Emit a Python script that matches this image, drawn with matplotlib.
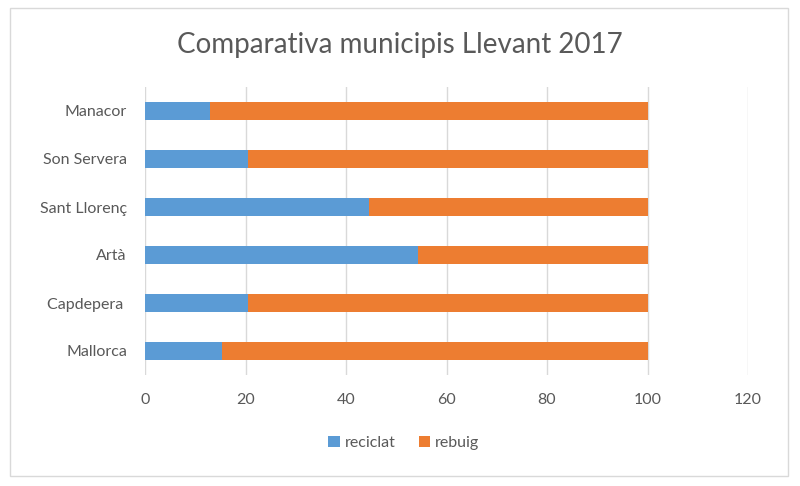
import matplotlib.pyplot as plt
from matplotlib.patches import Rectangle

municipis = ["Mallorca", "Capdepera ", "Artà", "Sant Llorenç", "Son Servera", "Manacor"]
reciclat = [15.3, 20.4, 54.4, 44.6, 20.5, 13.0]
rebuig = [84.7, 79.6, 45.6, 55.4, 79.5, 87.0]
xticks = [0, 20, 40, 60, 80, 100, 120]

blue = "#5b9bd5"
orange = "#ed7d31"
txt = "#595959"

plt.rcParams['font.family'] = ['Lato', 'DejaVu Sans']

fig = plt.figure(figsize=(8, 4.86), dpi=100)
ax = fig.add_axes([145/800, 1-375/486, (748-145)/800, (375-87)/486])

ax.barh(municipis, reciclat, height=0.38, color=blue, label="reciclat", zorder=3)
ax.barh(municipis, rebuig, left=reciclat, height=0.38, color=orange, label="rebuig", zorder=3)

ax.set_xlim(0, 120)
ax.set_ylim(-0.5, len(municipis) - 0.5)
ax.set_xticks(xticks)
ax.grid(axis="x", color="#d9d9d9", linewidth=1, zorder=0)
for s in ax.spines.values():
    s.set_visible(False)
ax.tick_params(axis="both", length=0, labelsize=11.5, colors=txt)
ax.tick_params(axis="y", pad=13)
ax.tick_params(axis="x", pad=13)

fig.text(0.5, 1-45/486, "Comparativa municipis Llevant 2017", ha="center", va="center",
         fontsize=20, color=txt)

fig.legend(loc="center", bbox_to_anchor=(404/800, 1-443/486), ncol=2, frameon=False,
           fontsize=11.5, labelcolor=txt, handlelength=0.7, handleheight=0.7,
           handletextpad=0.3, columnspacing=1.5)

fig.patches.append(Rectangle((10/800, 1-476/486), 778/800, 468/486, transform=fig.transFigure,
                             fill=False, edgecolor="#d9d9d9", linewidth=1))

fig.savefig("out.png", dpi=100)
